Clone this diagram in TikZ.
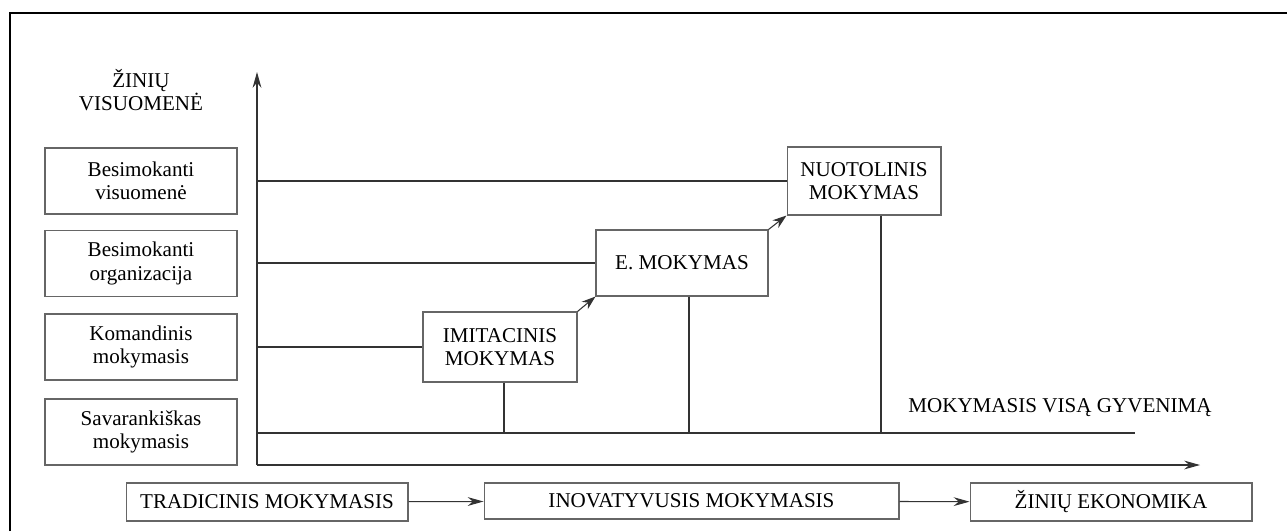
\documentclass[tikz,border=0pt]{standalone}
\usepackage{fontspec}
\setmainfont{Liberation Serif}
\usetikzlibrary{arrows.meta}

\begin{document}
\begin{tikzpicture}[x=0.02cm, y=-0.02cm,
    font=\fontsize{12}{13.3}\selectfont,
    line/.style={draw=black!80, line width=0.6pt},
    box/.style={draw=black!60, line width=0.6pt, align=center, inner sep=0pt},
    sidebox/.style={box, minimum width=3.84cm, minimum height=1.32cm},
    stagebox/.style={box, minimum height=1.36cm},
    basebox/.style={box, minimum height=0.76cm},
    tip/.style={-{Stealth[length=9pt, width=5pt]}},
    smalltip/.style={-{Stealth[length=8pt, width=5.5pt]}}]
\useasboundingbox (0,0) rectangle (1287,531);
\draw[line width=1.2pt] (10,531) -- (10,13) -- (1287,13);

\node[align=center] (zv) at (141,90) {ŽINIŲ\\VISUOMENĖ};
\node[sidebox] (bv) at (141,181) {Besimokanti\\visuomenė};
\node[sidebox] (bo) at (141,263.5) {Besimokanti\\organizacija};
\node[sidebox] (km) at (141,347) {Komandinis\\mokymasis};
\node[sidebox] (sm) at (141,432) {Savarankiškas\\mokymasis};

\coordinate (o) at (257,465);
\coordinate (ytop) at (257,72);
\coordinate (xend) at (1200,465);
\draw[line, tip] (o) -- (ytop);
\draw[line, tip] (o) -- (xend);

\node[stagebox, minimum width=3.08cm, minimum height=1.4cm] (imit) at (500,347) {IMITACINIS\\MOKYMAS};
\node[stagebox, minimum width=3.44cm, minimum height=1.32cm] (emok) at (682,263) {E. MOKYMAS};
\node[stagebox, minimum width=3.08cm] (nuot) at (864,181) {NUOTOLINIS\\MOKYMAS};

\draw[line] (o |- nuot.west) -- (nuot.west);
\draw[line] (o |- emok.west) -- (emok.west);
\draw[line] (o |- imit.west) -- (imit.west);

\coordinate (lifeS) at (257,433);
\coordinate (lifeE) at (1135,433);
\draw[line] (lifeS) -- (lifeE);
\draw[line] ([xshift=0.08cm]imit.south) -- ([xshift=0.08cm]imit.south |- lifeS);
\draw[line] ([xshift=0.14cm]emok.south) -- ([xshift=0.14cm]emok.south |- lifeS);
\draw[line] ([xshift=0.34cm]nuot.south) -- ([xshift=0.34cm]nuot.south |- lifeS);
\node (mvg) at (1060,408) {MOKYMASIS VISĄ GYVENIMĄ};

\draw[line, smalltip] (imit.north east) -- (emok.south west);
\draw[line, smalltip] (emok.north east) -- (nuot.south west);

\node[basebox, minimum width=5.64cm] (trad) at (267,502) {TRADICINIS MOKYMASIS};
\node[basebox, minimum width=8.3cm, minimum height=0.72cm] (inov) at (691.5,501) {INOVATYVUSIS MOKYMASIS};
\node[basebox, minimum width=5.64cm] (zek) at (1111,502) {ŽINIŲ EKONOMIKA};
\draw[line, tip] (trad) -- (inov);
\draw[line, tip] (inov) -- (zek);
\end{tikzpicture}
\end{document}
